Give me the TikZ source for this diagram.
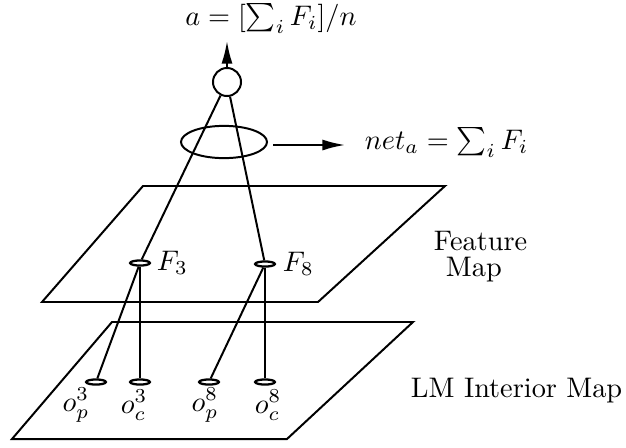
\documentclass[tikz,border=0pt]{standalone}
\usetikzlibrary{shapes.geometric,arrows.meta}
\begin{document}
\begin{tikzpicture}[x=0.3534pt,y=-0.3534pt,line width=0.7pt,
  unit/.style={draw,ellipse,inner sep=0pt,minimum width=7pt,minimum height=1.8pt,line width=0.8pt},
  arr/.style={-{Latex[length=8pt,width=3.9pt]}},
  lbl/.style={inner sep=0pt}]
\useasboundingbox (0,0) rectangle (626,447);
% planes
\draw (143,186) -- (445,186) -- (318,302) -- (42,302) -- cycle;
\draw (112,322) -- (413,322) -- (287,439) -- (12,439) -- cycle;
% output unit
\node[draw,circle,minimum size=9.9pt,inner sep=0pt] (top) at (227,82) {};
\node[draw,ellipse,minimum width=30.4pt,minimum height=11.4pt,inner sep=0pt] (sum) at (224,142) {};
\node[lbl,anchor=base] (title) at (271,25) {$a=[\sum_i F_i]/n$};
\node[lbl,anchor=base west] (netlbl) at (364,149) {$net_a=\sum_i F_i$};
\coordinate (topend) at (227,41);
\coordinate (netend) at (345,145);
\draw[arr] (top) -- (topend);
\draw[arr] ([xshift=1.8pt]sum.east |- netend) -- (netend);
% feature units
\node[unit] (f3) at (140,263) {};
\node[unit] (f8) at (265,264) {};
\node[lbl,anchor=west] (f3l) at (156,263) {$F_3$};
\node[lbl,anchor=west] (f8l) at (282,264) {$F_8$};
% interior units
\node[unit] (op3) at (96,382) {};
\node[unit] (oc3) at (140,382) {};
\node[unit] (op8) at (209,382) {};
\node[unit] (oc8) at (265,382) {};
\node[lbl] (op3l) at (76,405) {$o_p^3$};
\node[lbl] (oc3l) at (134,405) {$o_c^3$};
\node[lbl] (op8l) at (205,405) {$o_p^8$};
\node[lbl] (oc8l) at (268,405) {$o_c^8$};
% connections
\draw (top) -- (f3);
\draw (top) -- (f8);
\draw (f3) -- (op3);
\draw (f3) -- (oc3);
\draw (f8) -- (op8);
\draw (f8) -- (oc8);
% map labels
\node[lbl,anchor=base west] (feat) at (433,250) {Feature};
\node[lbl,anchor=base west] (featmap) at (445,276) {Map};
\node[lbl,anchor=base west] (lm) at (410,397) {LM Interior Map};
\end{tikzpicture}
\end{document}
